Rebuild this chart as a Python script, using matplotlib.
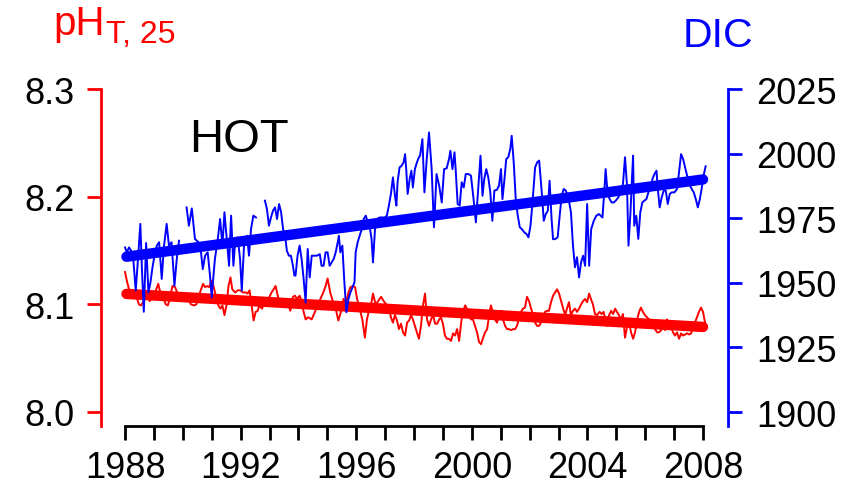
import numpy as np
import matplotlib.pyplot as plt

plt.rcParams['font.family'] = ['Liberation Sans', 'DejaVu Sans']

# surface pH (total scale, 25 C) at station ALOHA
ph_year = [
    1988.00, 1988.07, 1988.14, 1988.23, 1988.32, 1988.42, 1988.48, 1988.55, 1988.65, 1988.72,
    1988.78, 1988.85, 1988.92, 1989.01, 1989.08, 1989.15, 1989.22, 1989.31, 1989.41, 1989.48,
    1989.55, 1989.64, 1989.73, 1989.82, 1989.91, 1990.01, 1990.10, 1990.19, 1990.28, 1990.38,
    1990.47, 1990.56, 1990.63, 1990.70, 1990.77, 1990.84, 1990.91, 1991.00, 1991.07, 1991.14,
    1991.23, 1991.30, 1991.37, 1991.44, 1991.51, 1991.58, 1991.65, 1991.71, 1991.81, 1991.90,
    1991.99, 1992.08, 1992.18, 1992.24, 1992.31, 1992.38, 1992.45, 1992.52, 1992.59, 1992.65,
    1992.74, 1992.84, 1992.96, 1993.07, 1993.21, 1993.31, 1993.42, 1993.51, 1993.63, 1993.72,
    1993.81, 1993.88, 1993.95, 1994.04, 1994.11, 1994.18, 1994.25, 1994.34, 1994.46, 1994.57,
    1994.67, 1994.76, 1994.86, 1994.94, 1995.01, 1995.10, 1995.20, 1995.29, 1995.38, 1995.47,
    1995.56, 1995.63, 1995.73, 1995.80, 1995.89, 1995.96, 1996.03, 1996.12, 1996.21, 1996.30,
    1996.37, 1996.44, 1996.51, 1996.58, 1996.67, 1996.76, 1996.86, 1996.95, 1997.04, 1997.13,
    1997.20, 1997.27, 1997.34, 1997.41, 1997.48, 1997.55, 1997.62, 1997.69, 1997.76, 1997.83,
    1997.90, 1997.96, 1998.03, 1998.10, 1998.17, 1998.24, 1998.31, 1998.38, 1998.45, 1998.52,
    1998.59, 1998.66, 1998.73, 1998.80, 1998.87, 1998.93, 1999.00, 1999.07, 1999.14, 1999.21,
    1999.28, 1999.35, 1999.42, 1999.49, 1999.56, 1999.63, 1999.70, 1999.77, 1999.83, 1999.90,
    1999.97, 2000.04, 2000.11, 2000.18, 2000.25, 2000.32, 2000.39, 2000.46, 2000.53, 2000.60,
    2000.66, 2000.73, 2000.80, 2000.87, 2000.94, 2001.01, 2001.08, 2001.15, 2001.22, 2001.29,
    2001.36, 2001.43, 2001.50, 2001.56, 2001.63, 2001.70, 2001.77, 2001.84, 2001.91, 2001.98,
    2002.05, 2002.12, 2002.19, 2002.26, 2002.33, 2002.39, 2002.46, 2002.53, 2002.60, 2002.67,
    2002.74, 2002.81, 2002.88, 2002.95, 2003.02, 2003.09, 2003.16, 2003.23, 2003.29, 2003.36,
    2003.43, 2003.50, 2003.57, 2003.64, 2003.71, 2003.78, 2003.85, 2003.92, 2003.99, 2004.06,
    2004.12, 2004.19, 2004.26, 2004.33, 2004.42, 2004.49, 2004.56, 2004.63, 2004.68, 2004.75,
    2004.82, 2004.89, 2004.96, 2005.02, 2005.09, 2005.16, 2005.23, 2005.30, 2005.37, 2005.44,
    2005.51, 2005.58, 2005.65, 2005.72, 2005.79, 2005.85, 2005.92, 2005.99, 2006.06, 2006.13,
    2006.20, 2006.27, 2006.34, 2006.41, 2006.48, 2006.55, 2006.62, 2006.69, 2006.75, 2006.82,
    2006.89, 2006.96, 2007.03, 2007.10, 2007.17, 2007.24, 2007.31, 2007.38, 2007.45, 2007.52,
    2007.59, 2007.65, 2007.72, 2007.79, 2007.86, 2007.93, 2008.00, 2008.07,
]
ph_value = [
    8.130, 8.121, 8.114, 8.108, 8.111, 8.105, 8.100, 8.099, 8.103, 8.111,
    8.108, 8.103, 8.105, 8.108, 8.114, 8.119, 8.111, 8.107, 8.100, 8.099,
    8.105, 8.117, 8.116, 8.110, 8.108, 8.105, 8.107, 8.105, 8.100, 8.099,
    8.100, 8.108, 8.114, 8.119, 8.116, 8.117, 8.116, 8.122, 8.116, 8.108,
    8.099, 8.096, 8.099, 8.090, 8.099, 8.117, 8.125, 8.114, 8.111, 8.113,
    8.113, 8.111, 8.111, 8.110, 8.113, 8.099, 8.085, 8.093, 8.094, 8.099,
    8.096, 8.103, 8.105, 8.111, 8.117, 8.105, 8.102, 8.103, 8.102, 8.094,
    8.107, 8.108, 8.105, 8.108, 8.103, 8.093, 8.086, 8.088, 8.086, 8.093,
    8.099, 8.105, 8.111, 8.117, 8.124, 8.111, 8.102, 8.096, 8.085, 8.093,
    8.105, 8.099, 8.111, 8.116, 8.117, 8.116, 8.105, 8.096, 8.086, 8.069,
    8.086, 8.094, 8.099, 8.110, 8.100, 8.103, 8.107, 8.103, 8.100, 8.097,
    8.088, 8.083, 8.090, 8.085, 8.077, 8.082, 8.074, 8.071, 8.083, 8.085,
    8.090, 8.086, 8.080, 8.074, 8.068, 8.080, 8.099, 8.110, 8.086, 8.080,
    8.086, 8.090, 8.082, 8.082, 8.086, 8.088, 8.082, 8.071, 8.068, 8.068,
    8.066, 8.073, 8.071, 8.077, 8.066, 8.083, 8.094, 8.099, 8.096, 8.090,
    8.086, 8.086, 8.080, 8.074, 8.065, 8.063, 8.069, 8.074, 8.077, 8.090,
    8.099, 8.093, 8.086, 8.083, 8.090, 8.094, 8.086, 8.080, 8.077, 8.077,
    8.076, 8.077, 8.077, 8.080, 8.086, 8.093, 8.096, 8.097, 8.107, 8.103,
    8.096, 8.090, 8.083, 8.080, 8.080, 8.083, 8.086, 8.093, 8.094, 8.094,
    8.102, 8.108, 8.111, 8.114, 8.110, 8.103, 8.096, 8.090, 8.096, 8.102,
    8.090, 8.094, 8.096, 8.093, 8.096, 8.100, 8.103, 8.105, 8.102, 8.110,
    8.105, 8.100, 8.091, 8.090, 8.093, 8.091, 8.093, 8.085, 8.080, 8.090,
    8.094, 8.091, 8.096, 8.093, 8.090, 8.086, 8.091, 8.069, 8.079, 8.083,
    8.074, 8.068, 8.074, 8.086, 8.093, 8.097, 8.093, 8.090, 8.088, 8.086,
    8.085, 8.083, 8.077, 8.074, 8.074, 8.076, 8.079, 8.076, 8.086, 8.083,
    8.080, 8.074, 8.071, 8.074, 8.068, 8.073, 8.071, 8.072, 8.073, 8.072,
    8.073, 8.080, 8.083, 8.088, 8.093, 8.097, 8.093, 8.083,
]

# surface dissolved inorganic carbon (umol/kg); nan marks breaks in the record
nan = float('nan')
dic_year = [
    1988.00, 1988.06, 1988.14, 1988.21, 1988.29, 1988.37, 1988.44, 1988.53, 1988.58, 1988.65,
    1988.73, 1988.81, 1988.88, 1988.95, 1989.02, 1989.10, 1989.18, 1989.27, 1989.35, 1989.44,
    1989.52, 1989.61, 1989.71, 1989.79, 1989.87, 1990.00, 1990.13, 1990.21, 1990.31, 1990.42,
    1990.54, 1990.63, 1990.69, 1990.77, 1990.86, 1990.94, 1991.00, 1991.06, 1991.11, 1991.21,
    1991.29, 1991.37, 1991.44, 1991.52, 1991.60, 1991.67, 1991.75, 1991.81, 1991.90, 1991.98,
    1992.04, 1992.13, 1992.22, 1992.29, 1992.36, 1992.44, 1992.53, 1992.70, 1992.84, 1992.91,
    1992.98, 1993.05, 1993.12, 1993.19, 1993.26, 1993.33, 1993.40, 1993.47, 1993.54, 1993.60,
    1993.67, 1993.74, 1993.81, 1993.86, 1993.90, 1993.97, 1994.04, 1994.11, 1994.18, 1994.25,
    1994.32, 1994.39, 1994.46, 1994.55, 1994.64, 1994.74, 1994.80, 1994.87, 1994.94, 1995.01,
    1995.08, 1995.15, 1995.22, 1995.29, 1995.36, 1995.40, 1995.45, 1995.52, 1995.59, 1995.66,
    1995.73, 1995.80, 1995.87, 1995.94, 1995.98, 1996.05, 1996.12, 1996.19, 1996.26, 1996.33,
    1996.40, 1996.46, 1996.53, 1996.58, 1996.65, 1996.72, 1996.81, 1996.90, 1996.99, 1997.06,
    1997.13, 1997.20, 1997.27, 1997.34, 1997.39, 1997.43, 1997.50, 1997.57, 1997.64, 1997.69,
    1997.73, 1997.78, 1997.85, 1997.91, 1997.96, 1998.03, 1998.10, 1998.17, 1998.21, 1998.29,
    1998.36, 1998.44, 1998.52, 1998.61, 1998.69, 1998.78, 1998.87, 1998.96, 1999.04, 1999.13,
    1999.21, 1999.26, 1999.33, 1999.40, 1999.44, 1999.51, 1999.58, 1999.65, 1999.72, 1999.79,
    1999.88, 1999.97, 2000.06, 2000.14, 2000.23, 2000.30, 2000.37, 2000.43, 2000.50, 2000.57,
    2000.64, 2000.71, 2000.78, 2000.87, 2000.94, 2001.01, 2001.06, 2001.13, 2001.19, 2001.26,
    2001.33, 2001.38, 2001.45, 2001.52, 2001.59, 2001.66, 2001.73, 2001.82, 2001.89, 2001.96,
    2002.03, 2002.10, 2002.19, 2002.26, 2002.33, 2002.42, 2002.49, 2002.56, 2002.63, 2002.69,
    2002.76, 2002.81, 2002.88, 2002.97, 2003.04, 2003.11, 2003.18, 2003.25, 2003.34, 2003.43,
    2003.50, 2003.57, 2003.64, 2003.71, 2003.78, 2003.85, 2003.92, 2003.99, 2004.06, 2004.13,
    2004.22, 2004.31, 2004.40, 2004.52, 2004.59, 2004.63, 2004.70, 2004.77, 2004.84, 2004.91,
    2004.98, 2005.07, 2005.16, 2005.23, 2005.30, 2005.37, 2005.42, 2005.49, 2005.53, 2005.58,
    2005.62, 2005.69, 2005.76, 2005.83, 2005.90, 2005.97, 2006.04, 2006.11, 2006.18, 2006.25,
    2006.32, 2006.39, 2006.43, 2006.50, 2006.57, 2006.64, 2006.71, 2006.78, 2006.85, 2006.92,
    2007.01, 2007.10, 2007.17, 2007.24, 2007.31, 2007.38, 2007.45, 2007.52, 2007.61, 2007.68,
    2007.75, 2007.82, 2007.89, 2007.95, 2008.02, 2008.09,
]
dic_value = [
    1963.7, 1961.8, 1963.7, 1962.4, 1958.6, 1947.0, 1957.9, 1972.8, 1956.6, 1938.8,
    1965.4, 1946.3, 1950.2, 1956.0, 1960.5, 1964.4, 1965.7, 1951.5, 1964.4, 1972.8,
    1964.4, 1965.7, 1948.9, 1959.2, 1966.3, nan, 1979.2, 1972.1, 1978.8, 1967.0,
    1965.7, 1961.8, 1955.3, 1960.5, 1961.8, 1952.8, 1944.4, 1952.8, 1959.2, 1967.0,
    1974.7, 1964.4, 1977.3, 1967.0, 1956.6, 1976.0, 1956.6, 1965.7, 1967.6, 1959.2,
    1947.0, 1967.0, 1968.2, 1960.5, 1970.8, 1976.0, 1975.3, nan, 1981.8, 1978.6,
    1972.1, 1975.3, 1977.9, 1979.2, 1974.7, 1980.5, 1977.3, 1970.8, 1968.2, 1962.4,
    1960.5, 1960.5, 1956.6, 1952.8, 1952.8, 1960.5, 1964.4, 1959.2, 1951.5, 1942.4,
    1963.1, 1952.1, 1960.5, 1960.5, 1960.5, 1961.1, 1956.6, 1956.6, 1961.8, 1961.8,
    1956.6, 1957.9, 1959.2, 1961.8, 1965.7, 1968.2, 1961.8, 1964.4, 1950.2, 1938.6,
    1943.7, 1946.3, 1948.2, 1950.2, 1961.8, 1965.7, 1968.2, 1970.8, 1974.7, 1976.0,
    1973.4, 1972.1, 1967.0, 1957.9, 1970.8, 1974.7, 1975.3, 1975.3, 1975.3, 1976.0,
    1979.9, 1984.4, 1990.8, 1983.7, 1979.9, 1988.9, 1994.7, 1995.3, 1996.6, 1999.8,
    1994.0, 1984.4, 1990.2, 1993.4, 1986.9, 1994.0, 1996.6, 1998.6, 1999.2, 2005.6,
    1985.0, 1997.9, 2008.2, 1994.0, 1971.5, 1992.1, 1987.6, 1981.1, 1994.0, 1994.3,
    1997.9, 2001.1, 1994.0, 2000.5, 1994.0, 1980.5, 1979.9, 1988.9, 1986.9, 1992.1,
    1992.1, 1991.5, 1982.4, 1973.4, 1987.6, 1999.2, 1983.7, 1990.2, 1994.0, 1990.8,
    1985.0, 1974.0, 1985.7, 1986.0, 1987.6, 1994.0, 1982.4, 1990.2, 1997.9, 1998.6,
    2001.8, 2006.9, 1996.6, 1982.4, 1976.0, 1971.5, 1970.8, 1969.5, 1968.9, 1967.6,
    1972.1, 1981.1, 1994.7, 1996.6, 1997.3, 1985.0, 1974.0, 1976.6, 1977.9, 1989.5,
    1974.7, 1966.9, 1966.9, 1967.6, 1976.0, 1983.7, 1986.3, 1985.7, 1983.1, 1977.3,
    1964.4, 1956.0, 1959.9, 1952.1, 1957.9, 1960.5, 1956.6, 1980.5, 1956.6, 1970.8,
    1974.0, 1976.0, 1976.6, 1975.3, 1986.3, 1994.0, 1984.4, 1982.4, 1981.1, 1981.1,
    1981.8, 1983.1, 1985.0, 1988.2, 1998.6, 1987.6, 1964.4, 1977.3, 1987.6, 1999.2,
    1972.1, 1976.0, 1967.0, 1977.3, 1981.1, 1981.8, 1982.4, 1985.0, 1986.3, 1990.2,
    1992.1, 1993.4, 1986.9, 1979.2, 1983.1, 1985.7, 1985.7, 1980.5, 1984.4, 1985.0,
    1985.0, 1986.3, 1992.8, 1999.8, 1997.9, 1994.7, 1991.5, 1988.2, 1986.3, 1985.0,
    1982.4, 1979.2, 1982.4, 1986.3, 1991.5, 1995.1,
]

# linear trends
trend_year = [1988.05, 2008.0]
ph_trend = [8.1097, 8.0790]
dic_trend = [1960.1, 1990.0]

year_ticks = list(range(1988, 2009))
year_labels = [str(y) if y % 4 == 0 else '' for y in year_ticks]
ph_ticks = [8.0, 8.1, 8.2, 8.3]
dic_ticks = [1900, 1925, 1950, 1975, 2000, 2025]

fig = plt.figure(figsize=(8.57, 4.85), dpi=100)
ax = fig.add_axes([0.1179, 0.1196, 0.7316, 0.6948])

ax.plot(ph_year, ph_value, color='red', lw=1.4)
ax.plot(trend_year, ph_trend, color='red', lw=7.5, solid_capstyle='round')
ax.set_xlim(1987.17, 2008.865)
ax.set_ylim(7.987, 8.3)
ax.set_xticks(year_ticks)
ax.set_xticklabels(year_labels)
ax.set_yticks(ph_ticks)
ax.set_yticklabels(['%.1f' % v for v in ph_ticks])

ax2 = ax.twinx()
ax2.plot(dic_year, dic_value, color='blue', lw=1.4)
ax2.plot(trend_year, dic_trend, color='blue', lw=7.5, solid_capstyle='round')
ax2.set_ylim(1894.6, 2025)
ax2.set_yticks(dic_ticks)

for s in ['top', 'right']:
    ax.spines[s].set_visible(False)
for s in ['top', 'left', 'bottom']:
    ax2.spines[s].set_visible(False)
ax.spines['left'].set_color('red')
ax.spines['left'].set_linewidth(2)
ax.spines['bottom'].set_linewidth(2)
ax.spines['bottom'].set_bounds(1988, 2008)
ax2.spines['right'].set_color('blue')
ax2.spines['right'].set_linewidth(2)

ax.tick_params(axis='x', length=10, width=2, pad=7, labelsize=26, color='black')
ax.tick_params(axis='y', length=10, width=2, pad=9, labelsize=26, color='red')
ax2.tick_params(axis='y', length=10, width=2, pad=10, labelsize=26, color='blue')

W, H = 857, 485
fig.text(53 / W, 1 - 35 / H, 'pH', color='red', fontsize=29, ha='left', va='baseline')
fig.text(106 / W, 1 - 43 / H, 'T, 25', color='red', fontsize=23, ha='left', va='baseline')
fig.text(683 / W, 1 - 47 / H, 'DIC', color='blue', fontsize=29.5, ha='left', va='baseline')
fig.text(189 / W, 1 - 152 / H, 'HOT', color='black', fontsize=34, ha='left', va='baseline')

fig.savefig('out.png', dpi=100)
